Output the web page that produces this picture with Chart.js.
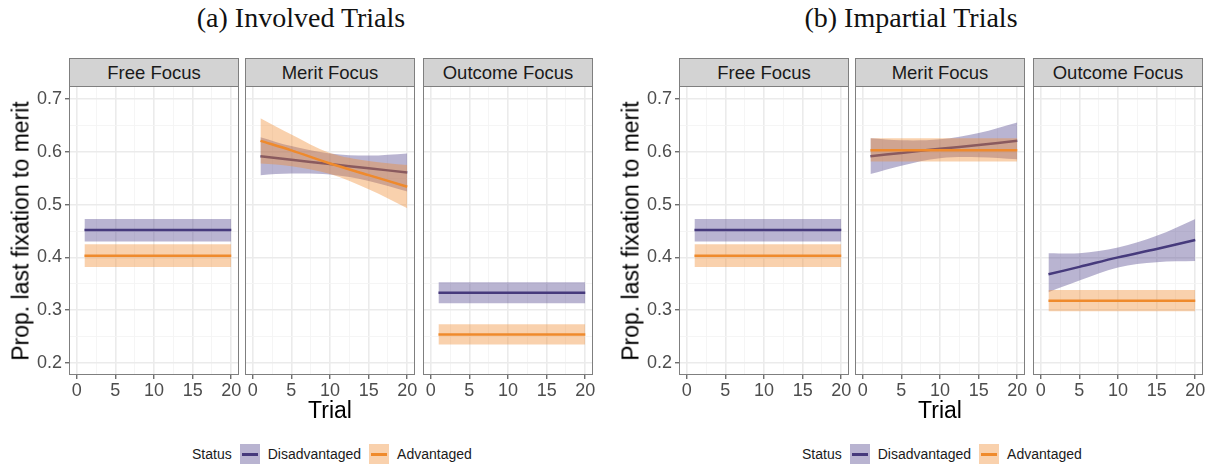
<!DOCTYPE html>
<html>
<head>
<meta charset="utf-8">
<script src="https://cdn.jsdelivr.net/npm/chart.js@4.4.1/dist/chart.umd.min.js"></script>
<style>
  body { margin: 0; background: #fff; }
  #wrap { position: relative; width: 1216px; height: 465px; overflow: hidden; font-family: "Liberation Sans", Arial, sans-serif; }
  .title { position: absolute; top: 0; width: 400px; margin-left: -200px; text-align: center; font-family: "Liberation Serif", "Times New Roman", serif; font-size: 28px; line-height: 36px; color: #111; }
  .strip { position: absolute; top: 58px; height: 29px; box-sizing: border-box; border: 1px solid #7f7f7f; background: #d3d3d3; color: #1a1a1a; font-size: 18.5px; line-height: 27px; text-align: center; }
  canvas { position: absolute; }
  .ytitle { position: absolute; font-size: 23px; white-space: nowrap; color: #000; transform: translate(-50%, -50%) rotate(-90deg); }
  .xtitle { position: absolute; font-size: 23px; white-space: nowrap; color: #000; transform: translate(-50%, -50%); }
  .legend { position: absolute; top: 444px; height: 20px; display: flex; align-items: center; font-size: 14px; color: #1a1a1a; white-space: nowrap; }
  .key { position: relative; width: 20px; height: 20px; margin: 0 8px; }
  .key i { position: absolute; left: 2px; right: 2px; top: 9px; height: 2.5px; }
</style>
</head>
<body>
<div id="wrap"></div>
<script>
// Trial positions where the fitted curves are read
const trials = [1, 5, 10, 15, 20];
const xBreaks = [0, 5, 10, 15, 20];
const xMinor = [2.5, 7.5, 12.5, 17.5];
const yBreaks = [0.2, 0.3, 0.4, 0.5, 0.6, 0.7];
const yMinor = [0.25, 0.35, 0.45, 0.55, 0.65];
const facets = ['Free Focus', 'Merit Focus', 'Outcome Focus'];
const figTitles = ['(a) Involved Trials', '(b) Impartial Trials'];
const statusLabels = ['Disadvantaged', 'Advantaged'];

// (a) Involved Trials
const invFreeDis = [0.452, 0.452, 0.452, 0.452, 0.452];
const invFreeDisLo = [0.430, 0.430, 0.430, 0.430, 0.430];
const invFreeDisHi = [0.473, 0.473, 0.473, 0.473, 0.473];
const invFreeAdv = [0.403, 0.403, 0.403, 0.403, 0.403];
const invFreeAdvLo = [0.382, 0.382, 0.382, 0.382, 0.382];
const invFreeAdvHi = [0.425, 0.425, 0.425, 0.425, 0.425];

const invMeritDis = [0.592, 0.585, 0.577, 0.569, 0.561];
const invMeritDisLo = [0.556, 0.559, 0.557, 0.545, 0.525];
const invMeritDisHi = [0.628, 0.611, 0.597, 0.593, 0.597];
const invMeritAdv = [0.621, 0.603, 0.578, 0.556, 0.534];
const invMeritAdvLo = [0.578, 0.573, 0.558, 0.529, 0.493];
const invMeritAdvHi = [0.664, 0.633, 0.598, 0.583, 0.575];

const invOutDis = [0.333, 0.333, 0.333, 0.333, 0.333];
const invOutDisLo = [0.313, 0.313, 0.313, 0.313, 0.313];
const invOutDisHi = [0.353, 0.353, 0.353, 0.353, 0.353];
const invOutAdv = [0.254, 0.254, 0.254, 0.254, 0.254];
const invOutAdvLo = [0.235, 0.235, 0.235, 0.235, 0.235];
const invOutAdvHi = [0.273, 0.273, 0.273, 0.273, 0.273];

// (b) Impartial Trials
const impFreeDis = [0.452, 0.452, 0.452, 0.452, 0.452];
const impFreeDisLo = [0.430, 0.430, 0.430, 0.430, 0.430];
const impFreeDisHi = [0.473, 0.473, 0.473, 0.473, 0.473];
const impFreeAdv = [0.403, 0.403, 0.403, 0.403, 0.403];
const impFreeAdvLo = [0.382, 0.382, 0.382, 0.382, 0.382];
const impFreeAdvHi = [0.425, 0.425, 0.425, 0.425, 0.425];

const impMeritDis = [0.592, 0.598, 0.606, 0.613, 0.621];
const impMeritDisLo = [0.558, 0.574, 0.588, 0.590, 0.586];
const impMeritDisHi = [0.626, 0.622, 0.624, 0.636, 0.656];
const impMeritAdv = [0.603, 0.603, 0.603, 0.603, 0.603];
const impMeritAdvLo = [0.582, 0.582, 0.582, 0.582, 0.582];
const impMeritAdvHi = [0.626, 0.626, 0.626, 0.626, 0.626];

const impOutDis = [0.368, 0.382, 0.400, 0.416, 0.433];
const impOutDisLo = [0.334, 0.356, 0.381, 0.391, 0.393];
const impOutDisHi = [0.408, 0.408, 0.419, 0.441, 0.473];
const impOutAdv = [0.318, 0.318, 0.318, 0.318, 0.318];
const impOutAdvLo = [0.298, 0.298, 0.298, 0.298, 0.298];
const impOutAdvHi = [0.338, 0.338, 0.338, 0.338, 0.338];

const FONT = '"Liberation Sans", Arial, sans-serif';
const DIS_LINE = '#463a7c';
const DIS_FILL = 'rgba(80, 68, 140, 0.40)';
const ADV_LINE = '#ef8a2c';
const ADV_FILL = 'rgba(240, 140, 50, 0.40)';

const panelBorder = {
  id: 'panelBorder',
  afterDraw(chart) {
    const a = chart.chartArea;
    const ctx = chart.ctx;
    ctx.save();
    ctx.strokeStyle = '#7f7f7f';
    ctx.lineWidth = 1;
    ctx.strokeRect(a.left + 0.5, a.top + 0.5, a.right - a.left - 1, a.bottom - a.top - 1);
    ctx.restore();
  }
};

function pts(ys) {
  return trials.map((t, i) => ({ x: t, y: ys[i] }));
}

function seriesSets(fit, lo, hi, line, fill, base) {
  return [
    { data: pts(lo), borderWidth: 0, pointRadius: 0, fill: false, tension: 0.35, order: base + 2 },
    { data: pts(hi), borderWidth: 0, pointRadius: 0, fill: '-1', backgroundColor: fill, tension: 0.35, order: base + 1 },
    { data: pts(fit), borderColor: line, borderWidth: 2.5, pointRadius: 0, fill: false, tension: 0.35, order: base }
  ];
}

const isMajorX = c => c.tick && xBreaks.includes(c.tick.value);
const isMajorY = c => c.tick && yBreaks.includes(c.tick.value);

function noPad(ax) {
  ax.paddingTop = 0;
  ax.paddingBottom = 0;
  ax.paddingLeft = 0;
  ax.paddingRight = 0;
}

function makePanel(wrap, left, showY, dis, adv) {
  const padL = showY ? 69 : 14;
  const canvas = document.createElement('canvas');
  canvas.width = padL + 170 + 14;
  canvas.height = 289 + 30;
  canvas.style.left = (left - padL) + 'px';
  canvas.style.top = '86px';
  wrap.appendChild(canvas);

  new Chart(canvas.getContext('2d'), {
    type: 'line',
    data: {
      datasets: [
        ...seriesSets(adv[0], adv[1], adv[2], ADV_LINE, ADV_FILL, 1),
        ...seriesSets(dis[0], dis[1], dis[2], DIS_LINE, DIS_FILL, 4)
      ]
    },
    options: {
      responsive: false,
      animation: false,
      devicePixelRatio: 1,
      layout: { autoPadding: false, padding: { left: showY ? 0 : 14, right: 14, top: 0, bottom: 0 } },
      plugins: { legend: { display: false }, tooltip: { enabled: false } },
      scales: {
        x: {
          type: 'linear',
          min: -1,
          max: 21,
          afterBuildTicks: ax => { ax.ticks = [...xBreaks, ...xMinor].sort((a, b) => a - b).map(v => ({ value: v })); },
          afterFit: ax => { ax.height = 30; noPad(ax); },
          ticks: {
            autoSkip: false,
            maxRotation: 0,
            padding: 1,
            color: '#4d4d4d',
            font: { family: FONT, size: 18 },
            callback: v => xBreaks.includes(v) ? String(v) : ''
          },
          grid: {
            color: c => isMajorX(c) ? '#ebebeb' : '#f4f4f4',
            lineWidth: c => isMajorX(c) ? 1.6 : 0.9,
            tickLength: 4,
            tickWidth: 1,
            tickColor: c => isMajorX(c) ? '#333333' : 'rgba(0,0,0,0)'
          },
          border: { display: false }
        },
        y: {
          type: 'linear',
          min: 0.177,
          max: 0.725,
          afterBuildTicks: ax => { ax.ticks = [...yBreaks, ...yMinor].sort((a, b) => a - b).map(v => ({ value: v })); },
          afterFit: ax => { ax.width = showY ? 69 : 0; noPad(ax); },
          ticks: {
            display: showY,
            autoSkip: false,
            padding: 3,
            color: '#4d4d4d',
            font: { family: FONT, size: 18 },
            callback: v => yBreaks.includes(v) ? v.toFixed(1) : ''
          },
          grid: {
            color: c => isMajorY(c) ? '#ebebeb' : '#f4f4f4',
            lineWidth: c => isMajorY(c) ? 1.6 : 0.9,
            drawTicks: showY,
            tickLength: 4,
            tickWidth: 1,
            tickColor: c => isMajorY(c) ? '#333333' : 'rgba(0,0,0,0)'
          },
          border: { display: false }
        }
      }
    },
    plugins: [panelBorder]
  });
}

function addDiv(wrap, cls, text, style) {
  const d = document.createElement('div');
  d.className = cls;
  if (text) d.textContent = text;
  Object.assign(d.style, style);
  wrap.appendChild(d);
  return d;
}

document.addEventListener('DOMContentLoaded', function () {
  const wrap = document.getElementById('wrap');
  const figures = [
    [
      [[invFreeDis, invFreeDisLo, invFreeDisHi], [invFreeAdv, invFreeAdvLo, invFreeAdvHi]],
      [[invMeritDis, invMeritDisLo, invMeritDisHi], [invMeritAdv, invMeritAdvLo, invMeritAdvHi]],
      [[invOutDis, invOutDisLo, invOutDisHi], [invOutAdv, invOutAdvLo, invOutAdvHi]]
    ],
    [
      [[impFreeDis, impFreeDisLo, impFreeDisHi], [impFreeAdv, impFreeAdvLo, impFreeAdvHi]],
      [[impMeritDis, impMeritDisLo, impMeritDisHi], [impMeritAdv, impMeritAdvLo, impMeritAdvHi]],
      [[impOutDis, impOutDisLo, impOutDisHi], [impOutAdv, impOutAdvLo, impOutAdvHi]]
    ]
  ];
  const panelLefts = [69, 245, 423];

  figures.forEach((panels, f) => {
    const off = f * 610;
    addDiv(wrap, 'title', figTitles[f], { left: (301 + off) + 'px' });
    panels.forEach((p, i) => {
      const left = panelLefts[i] + off;
      addDiv(wrap, 'strip', facets[i], { left: left + 'px', width: '170px' });
      makePanel(wrap, left, i === 0, p[0], p[1]);
    });
    addDiv(wrap, 'ytitle', 'Prop. last fixation to merit', { left: (21 + off) + 'px', top: '230.5px' });
    addDiv(wrap, 'xtitle', 'Trial', { left: (330 + off) + 'px', top: '410px' });

    const legend = addDiv(wrap, 'legend', '', { left: (192 + off) + 'px' });
    legend.innerHTML =
      '<span>Status</span>' +
      '<span class="key" style="background:' + DIS_FILL + '"><i style="background:' + DIS_LINE + '"></i></span>' +
      '<span>' + statusLabels[0] + '</span>' +
      '<span class="key" style="background:' + ADV_FILL + '"><i style="background:' + ADV_LINE + '"></i></span>' +
      '<span>' + statusLabels[1] + '</span>';
  });
});
</script>
</body>
</html>
